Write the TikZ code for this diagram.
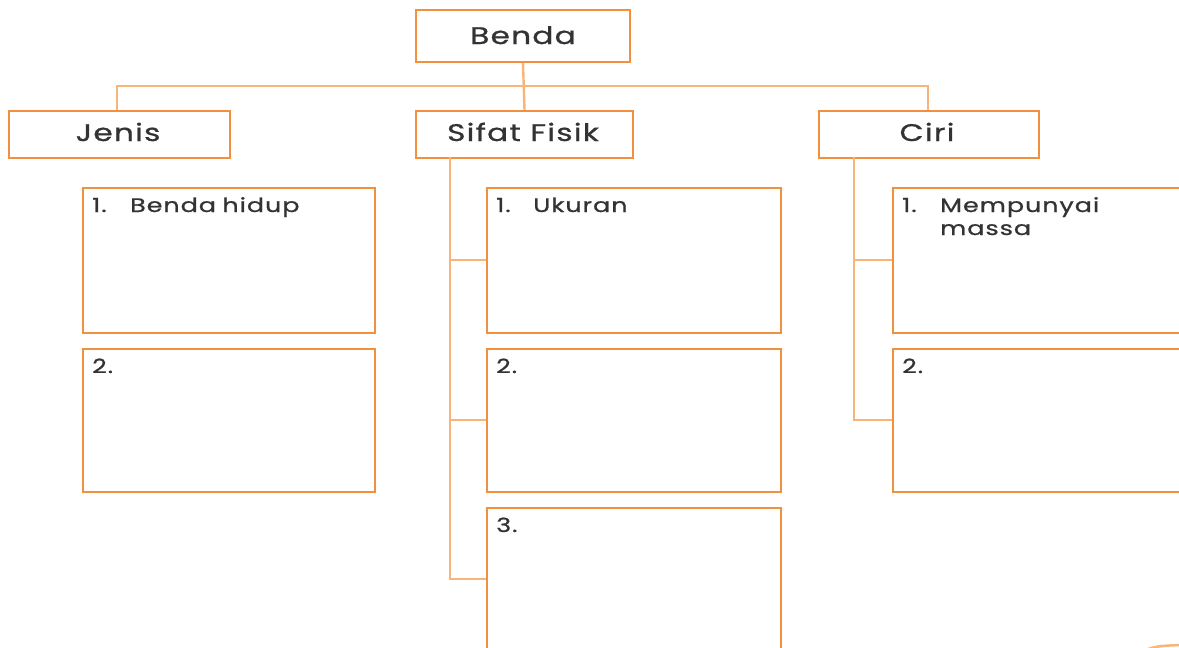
\documentclass[tikz,border=0pt]{standalone}
\usepackage{graphicx}
\usepackage{fontspec}
\setmainfont{Poppins}[LetterSpace=4, FakeBold=0.8]
\usetikzlibrary{calc}
\definecolor{boxor}{HTML}{F2913D}
\definecolor{lineor}{HTML}{F7B57A}
\definecolor{txt}{HTML}{333333}
\newcommand\widetxt[1]{\scalebox{1.3}[1]{#1}}
\tikzset{
  hbox/.style={draw=boxor, line width=2pt, anchor=north west, inner sep=0pt},
  ibox/.style={draw=boxor, line width=2pt, anchor=north west, inner sep=0pt},
  htxt/.style={text=txt, font=\fontsize{24}{27}\selectfont, inner sep=0pt, anchor=base},
  itxt/.style={text=txt, font=\fontsize{19.5}{22}\selectfont, inner sep=0pt, anchor=base west, align=left},
  conn/.style={draw=lineor, line width=2.4pt},
}
\begin{document}
\begin{tikzpicture}[x=1pt,y=-1pt]
\useasboundingbox (0,0) rectangle (1179,648);
\clip (0,0) rectangle (1179,648);
\fill[white] (0,0) rectangle (1179,648);
% header boxes
\node[hbox, minimum width=214pt, minimum height=52pt] (benda) at (415,9) {};
\node[htxt] (bendat) at (523,44) {\widetxt{Benda}};
\node[hbox, minimum width=221pt, minimum height=47pt] (jenis) at (8,110) {};
\node[htxt] (jenist) at (118,141) {\widetxt{Jenis}};
\node[hbox, minimum width=217pt, minimum height=47pt] (sifat) at (415,110) {};
\node[htxt] (sifatt) at (523,141) {\widetxt{Sifat Fisik}};
\node[hbox, minimum width=220pt, minimum height=47pt] (ciri) at (818,110) {};
\node[htxt] (cirit) at (927,141) {\widetxt{Ciri}};
% item boxes
\node[ibox, minimum width=292pt, minimum height=145pt] (j1) at (82,187) {};
\node[ibox, minimum width=292pt, minimum height=143pt] (j2) at (82,348) {};
\node[ibox, minimum width=294pt, minimum height=145pt] (s1) at (486,187) {};
\node[ibox, minimum width=294pt, minimum height=143pt] (s2) at (486,348) {};
\node[ibox, minimum width=294pt, minimum height=160pt] (s3) at (486,507) {};
\node[ibox, minimum width=310pt, minimum height=145pt] (c1) at (892,187) {};
\node[ibox, minimum width=310pt, minimum height=143pt] (c2) at (892,348) {};
% item texts
\node[itxt] (j1n) at (92,212) {\widetxt{1.}};
\node[itxt] (j1t) at (130,212) {\widetxt{Benda\hspace{-1pt} hidup}};
\node[itxt] (j2t) at (92,373) {\widetxt{2.}};
\node[itxt] (s1n) at (496,212) {\widetxt{1.}};
\node[itxt] (s1t) at (533,212) {\widetxt{Ukuran}};
\node[itxt] (s2t) at (496,373) {\widetxt{2.}};
\node[itxt] (s3t) at (496,532) {\widetxt{3.}};
\node[itxt] (c1n) at (902,212) {\widetxt{1.}};
\node[itxt] (c1t) at (940,212) {\widetxt{Mempunyai}};
\node[itxt] (c1u) at (940,235) {\widetxt{massa}};
\node[itxt] (c2t) at (902,373) {\widetxt{2.}};
% connectors
\draw[conn] (benda.south) -- (sifat.north);
\draw[conn] (jenis.north -| 117,0) -- (117,86) -- (928,86) -- (ciri.north -| 928,0);
\draw[conn] (450,157) -- (450,579) -- (s3.west |- 450,579);
\draw[conn] (450,260) -- (s1.west |- 450,260);
\draw[conn] (450,420) -- (s2.west |- 450,420);
\draw[conn] (854,157) -- (854,420) -- (c2.west |- 854,420);
\draw[conn] (854,260) -- (c1.west |- 854,260);
% partial curve at bottom right
\draw[lineor, line width=2.5pt] (1145,650) .. controls (1158,646) .. (1180,645);
\end{tikzpicture}
\end{document}
